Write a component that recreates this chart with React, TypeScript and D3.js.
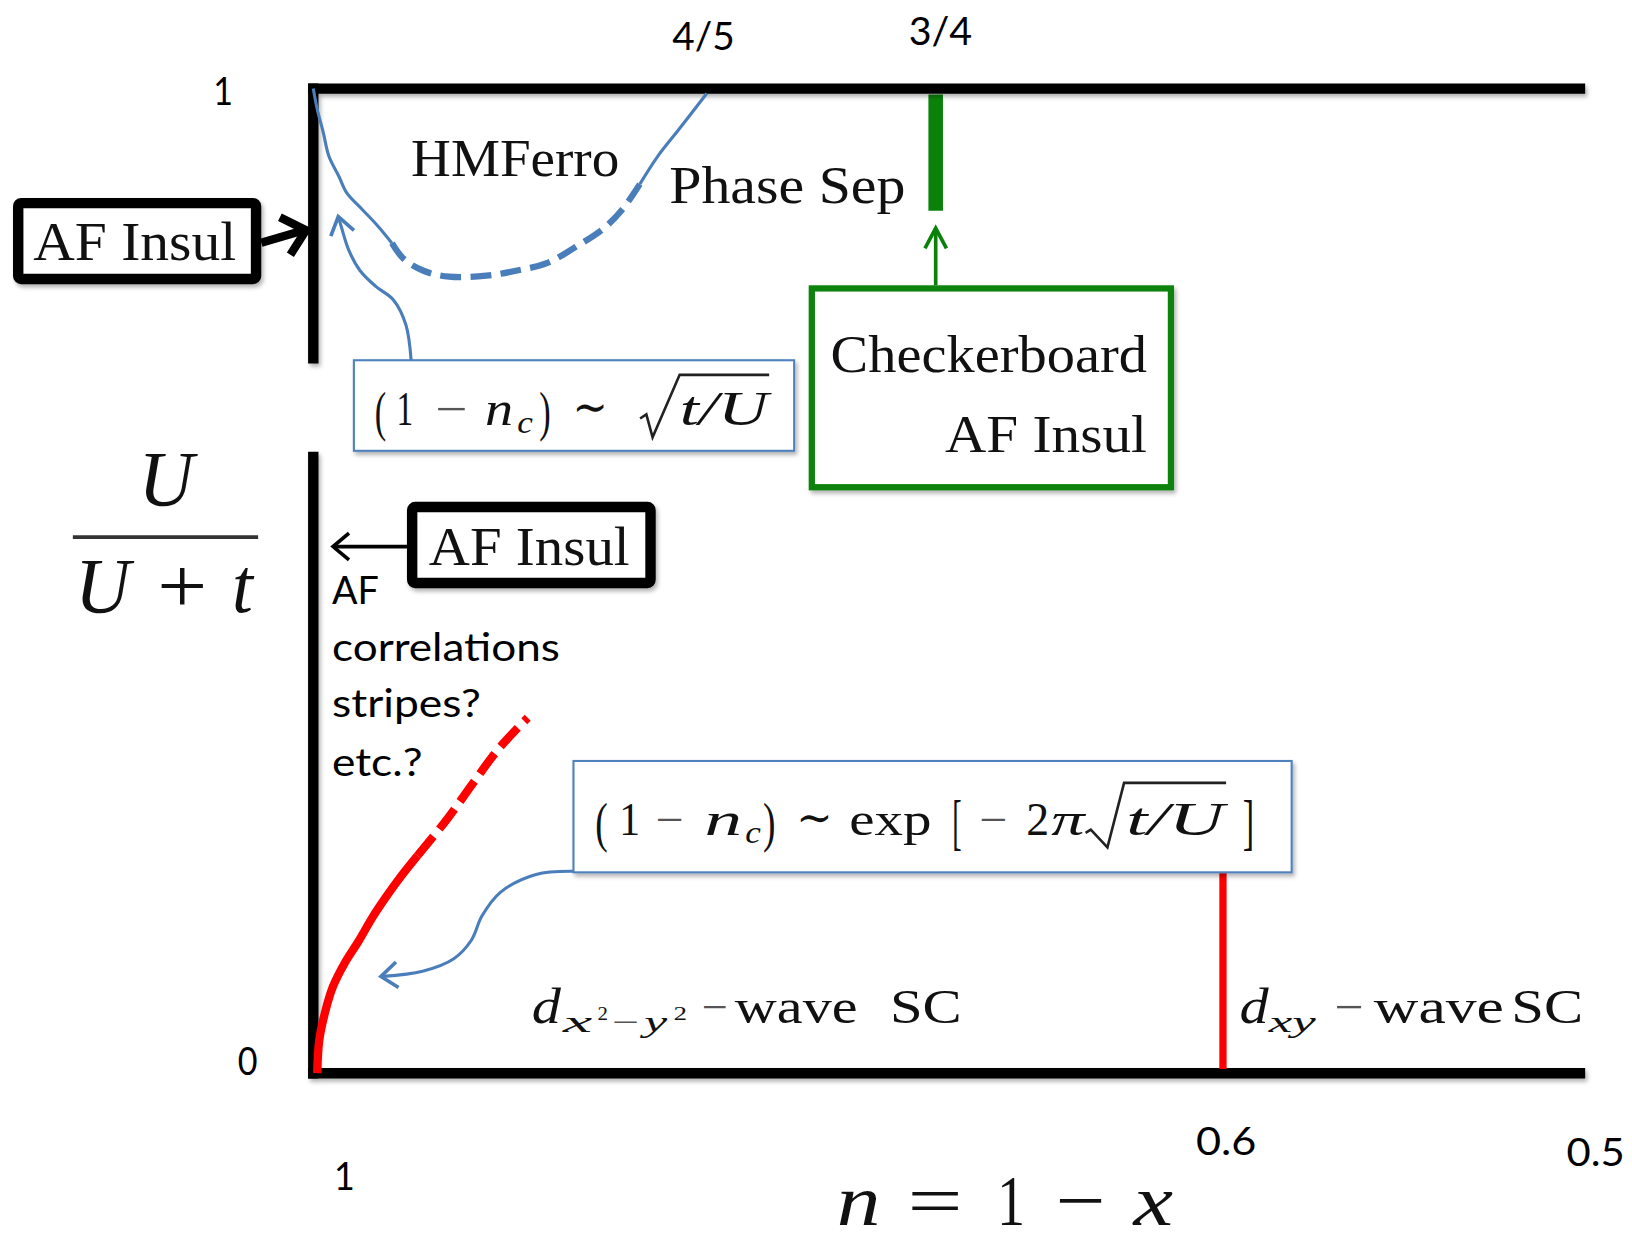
import React from "react";
import * as d3 from "d3";

// ---------- data ----------
// x axis: n = 1 - x (schematic, piecewise), y axis: U/(U+t)
const xTickValues = [1, 0.8, 0.75, 0.6, 0.5];
const xTickLabels = ["1", "4/5", "3/4", "0.6", "0.5"];
const yTickValues = [0, 1];
const yTickLabels = ["0", "1"];

// Half-metallic ferromagnet boundary [n, U/(U+t)]
const ferroSolidLeft: [number, number][] = [
  [1.0, 1.0], [0.998, 0.979], [0.995, 0.956], [0.992, 0.931], [0.987, 0.911],
  [0.983, 0.894], [0.975, 0.877], [0.967, 0.86], [0.96, 0.843],
];
const ferroDashed: [number, number][] = [
  [0.96, 0.843], [0.954, 0.827], [0.944, 0.815], [0.931, 0.809], [0.912, 0.81],
  [0.897, 0.815], [0.881, 0.823], [0.866, 0.84], [0.853, 0.857], [0.843, 0.877], [0.834, 0.903],
];
const ferroSolidRight: [number, number][] = [
  [0.834, 0.903], [0.825, 0.931], [0.814, 0.959], [0.8, 0.995],
];

// d_{x2-y2} SC boundary
const scSolid: [number, number][] = [
  [0.998, 0.0], [0.997, 0.033], [0.994, 0.062], [0.99, 0.088], [0.984, 0.112],
  [0.977, 0.134], [0.97, 0.158], [0.963, 0.179], [0.955, 0.201], [0.947, 0.221],
];
const scDashed: [number, number][] = [
  [0.947, 0.221], [0.932, 0.258], [0.919, 0.294], [0.906, 0.329], [0.891, 0.361],
];

// d_xy boundary at n = 0.6 and checkerboard line at n = 3/4
const dxyBoundary = { n: 0.6, uLow: 0, uHigh: 0.204 };
const checkerLine = { n: 0.75, uLow: 0.876, uHigh: 0.994 };

// ---------- layout ----------
const W = 1568;
const H = 1194;
const SERIF = "'Liberation Serif', 'DejaVu Serif', serif";
const SANS = "Lato, 'Open Sans', sans-serif";
const BLUE = "#4a7ebb";
const BOXBLUE = "#4f81bd";
const GREEN = "#0a820a";
const RED = "#ff0000";

const xScale = d3.scaleLinear().domain(xTickValues).range([301, 679, 899, 1175, 1523]);
const yScale = d3.scaleLinear().domain([0, 1]).range([1031, 85]);

const xTickLayout = [
  { dx: 30, y: 1143, w: 20 },
  { dx: -3, y: 48, w: 60 },
  { dx: 4.5, y: 43, w: 61 },
  { dx: 3, y: 1110, w: 58 },
  { dx: 10, y: 1120, w: 56 },
];
const yTickLayout = [
  { x: 238, dy: 2, w: 19 },
  { x: 214.5, dy: 16, w: 19 },
];

const line = d3
  .line<[number, number]>()
  .x((d) => xScale(d[0]))
  .y((d) => yScale(d[1]))
  .curve(d3.curveCatmullRom.alpha(0.5));

const smooth = d3.line<[number, number]>().curve(d3.curveCatmullRom.alpha(0.5));

function arrowHead(tail: [number, number], tip: [number, number], len: number, spreadDeg: number) {
  const a = Math.atan2(tip[1] - tail[1], tip[0] - tail[0]);
  const s = (spreadDeg * Math.PI) / 180;
  const b1 = [tip[0] - len * Math.cos(a - s), tip[1] - len * Math.sin(a - s)];
  const b2 = [tip[0] - len * Math.cos(a + s), tip[1] - len * Math.sin(a + s)];
  return `M${b1[0]},${b1[1]}L${tip[0]},${tip[1]}L${b2[0]},${b2[1]}`;
}

type TkProps = {
  x: number; y: number; s: number; w?: number; it?: boolean; f?: string;
  anchor?: string; fill?: string; children: React.ReactNode;
};
const Tk = ({ x, y, s, w, it, f, anchor, fill, children }: TkProps) => (
  <text
    x={x}
    y={y}
    fontSize={s}
    fontStyle={it ? "italic" : "normal"}
    fontFamily={f || SERIF}
    textAnchor={anchor || "start"}
    textLength={w}
    lengthAdjust={w ? "spacingAndGlyphs" : undefined}
    fill={fill || "#111"}
  >
    {children}
  </text>
);

export default function App() {
  const upArrowPts: [number, number][] = [
    [395, 346], [390, 312], [378, 288], [361, 275], [346, 260], [335, 240], [328, 218], [325, 208],
  ];
  const scArrowPts: [number, number][] = [
    [551, 837], [515, 840], [481, 857], [463, 880], [453, 903], [436, 921], [406, 933], [368, 938],
  ];

  return (
    <svg
      width={1632}
      height={1243}
      viewBox={`0 0 ${W} ${H}`}
      style={{ position: "absolute", left: 0, top: 0, background: "#fff" }}
    >
      <defs>
        <filter id="sh" x="-10%" y="-10%" width="130%" height="140%">
          <feDropShadow dx="2" dy="3" stdDeviation="2" floodColor="#000" floodOpacity="0.3" />
        </filter>
      </defs>
      <rect x={0} y={0} width={W} height={H} fill="#fff" />

      {/* checkerboard line at 3/4 */}
      <line
        x1={xScale(checkerLine.n)}
        x2={xScale(checkerLine.n)}
        y1={yScale(checkerLine.uHigh)}
        y2={yScale(checkerLine.uLow)}
        stroke={GREEN}
        strokeWidth={14}
      />

      {/* axes frame */}
      <g stroke="#000" strokeWidth={10} filter="url(#sh)">
        <line x1={296} x2={1523} y1={yScale(1)} y2={yScale(1)} />
        <line x1={296} x2={1523} y1={yScale(0)} y2={yScale(0)} />
        <line x1={xScale(1)} x2={xScale(1)} y1={yScale(1) - 5} y2={349} />
        <line x1={xScale(1)} x2={xScale(1)} y1={434} y2={yScale(0) + 5} />
      </g>

      {/* d_xy boundary */}
      <line
        x1={xScale(dxyBoundary.n)}
        x2={xScale(dxyBoundary.n)}
        y1={yScale(dxyBoundary.uHigh)}
        y2={yScale(dxyBoundary.uLow) - 4}
        stroke={RED}
        strokeWidth={7}
      />

      {/* SC boundary */}
      <path d={line(scSolid) || ""} fill="none" stroke={RED} strokeWidth={8} />
      <path d={line(scDashed) || ""} fill="none" stroke={RED} strokeWidth={8} strokeDasharray="24 9" />

      {/* HMFerro boundary */}
      <path d={line(ferroSolidLeft) || ""} fill="none" stroke={BLUE} strokeWidth={3} />
      <path d={line(ferroDashed) || ""} fill="none" stroke={BLUE} strokeWidth={6} strokeDasharray="20 9" />
      <path d={line(ferroSolidRight) || ""} fill="none" stroke={BLUE} strokeWidth={3} />

      {/* tick labels */}
      {xTickValues.map((v, i) => (
        <Tk key={"xt" + i} x={xScale(v) + xTickLayout[i].dx} y={xTickLayout[i].y} s={38} f={SANS}
          anchor="middle" w={xTickLayout[i].w} fill="#000">
          {xTickLabels[i]}
        </Tk>
      ))}
      {yTickValues.map((v, i) => (
        <Tk key={"yt" + i} x={yTickLayout[i].x} y={yScale(v) + yTickLayout[i].dy} s={38} f={SANS}
          anchor="middle" w={yTickLayout[i].w} fill="#000">
          {yTickLabels[i]}
        </Tk>
      ))}

      {/* axis titles */}
      <g>
        <Tk x={804} y={1177} s={70} it w={42}>n</Tk>
        <Tk x={872} y={1177} s={70} w={53}>=</Tk>
        <Tk x={958} y={1177} s={70} w={27}>1</Tk>
        <Tk x={1014} y={1177} s={70} w={48}>−</Tk>
        <Tk x={1089} y={1177} s={70} it w={38}>x</Tk>
      </g>
      <g>
        <Tk x={133} y={485} s={76} it w={53}>U</Tk>
        <line x1={70} x2={248} y1={516} y2={516} stroke="#333" strokeWidth={3.5} />
        <Tk x={72} y={588} s={76} it w={53}>U</Tk>
        <Tk x={151} y={588} s={76} w={48}>+</Tk>
        <Tk x={223} y={588} s={76} it w={20}>t</Tk>
      </g>

      {/* phase labels */}
      <Tk x={395} y={169} s={50} w={200}>HMFerro</Tk>
      <Tk x={643} y={195} s={50} w={227}>Phase Sep</Tk>

      {/* AF insulator box (upper) */}
      <rect x={17.5} y={195} width={228.5} height={73} rx={3} fill="#fff" stroke="#000" strokeWidth={10} filter="url(#sh)" />
      <Tk x={32} y={250} s={52} w={195}>AF Insul</Tk>
      <path d={`M251,233L292,221`} stroke="#000" strokeWidth={8} fill="none" />
      <path d={arrowHead([251, 233], [294, 221], 28, 42)} stroke="#000" strokeWidth={8} fill="none" strokeLinejoin="miter" />

      {/* sqrt box */}
      <path d={smooth(upArrowPts) || ""} stroke={BLUE} strokeWidth={3} fill="none" />
      <path d={arrowHead([327, 216], [325, 208], 20, 35)} stroke={BLUE} strokeWidth={3.5} fill="none" />
      <rect x={340} y={346} width={423} height={87} fill="#fff" stroke={BOXBLUE} strokeWidth={2} filter="url(#sh)" />
      <g>
        <Tk x={360} y={413} s={52} w={11}>(</Tk>
        <Tk x={381} y={408} s={46} w={16}>1</Tk>
        <Tk x={418} y={408} s={46} w={31} fill="#555">−</Tk>
        <Tk x={466} y={408} s={46} it w={27}>n</Tk>
        <Tk x={497} y={416} s={30} it w={15}>c</Tk>
        <Tk x={518} y={413} s={52} w={11}>)</Tk>
        <Tk x={550} y={406} s={46} w={34}>∼</Tk>
        <path d="M615,402L621,398L627,420L653,360L739,360" stroke="#222" strokeWidth={2.5} fill="none" />
        <Tk x={653} y={408} s={46} it w={85}>t/U</Tk>
      </g>

      {/* checkerboard box */}
      <line x1={899} x2={899} y1={274} y2={221} stroke={GREEN} strokeWidth={3.5} />
      <path d={arrowHead([899, 274], [899, 219], 22, 28)} stroke={GREEN} strokeWidth={3.5} fill="none" />
      <rect x={780} y={277} width={345} height={191} fill="#fff" stroke={GREEN} strokeWidth={6} filter="url(#sh)" />
      <Tk x={798} y={357} s={50} w={304}>Checkerboard</Tk>
      <Tk x={908} y={434} s={50} w={194}>AF Insul</Tk>

      {/* AF insulator box (lower) */}
      <line x1={391} x2={322} y1={525} y2={525} stroke="#000" strokeWidth={3.5} />
      <path d={arrowHead([391, 525], [320, 525], 20, 40)} stroke="#000" strokeWidth={3.5} fill="none" />
      <rect x={396} y={487} width={229} height={73} rx={3} fill="#fff" stroke="#000" strokeWidth={10} filter="url(#sh)" />
      <Tk x={412} y={543} s={52} w={193}>AF Insul</Tk>

      {/* AF correlations text */}
      <Tk x={319} y={580} s={38} f={SANS} w={45} fill="#000">AF</Tk>
      <Tk x={319} y={635} s={38} f={SANS} w={219} fill="#000">correlations</Tk>
      <Tk x={319} y={689} s={38} f={SANS} w={143} fill="#000">stripes?</Tk>
      <Tk x={319} y={745} s={38} f={SANS} w={87} fill="#000">etc.?</Tk>

      {/* exp box */}
      <path d={smooth(scArrowPts) || ""} stroke={BLUE} strokeWidth={3} fill="none" />
      <path d={arrowHead([376, 937], [366, 938], 20, 38)} stroke={BLUE} strokeWidth={3.5} fill="none" />
      <rect x={551} y={731} width={690} height={107} fill="#fff" stroke={BOXBLUE} strokeWidth={2} filter="url(#sh)" />
      <g>
        <Tk x={572} y={808} s={52} w={12}>(</Tk>
        <Tk x={595} y={802} s={44} w={20}>1</Tk>
        <Tk x={630} y={802} s={44} w={27} fill="#555">−</Tk>
        <Tk x={677} y={802} s={44} it w={36}>n</Tk>
        <Tk x={716} y={810} s={30} it w={15}>c</Tk>
        <Tk x={733} y={808} s={52} w={12}>)</Tk>
        <Tk x={765} y={800} s={44} w={35}>∼</Tk>
        <Tk x={816} y={802} s={44} w={79}>exp</Tk>
        <Tk x={915} y={810} s={58} w={9}>[</Tk>
        <Tk x={941} y={802} s={44} w={27} fill="#555">−</Tk>
        <Tk x={986} y={802} s={44} w={22}>2</Tk>
        <Tk x={1010} y={802} s={44} it w={32}>π</Tk>
        <path d="M1043,800L1048,797L1064,814L1080,752L1178,752" stroke="#222" strokeWidth={2.5} fill="none" />
        <Tk x={1082} y={802} s={44} it w={94}>t/U</Tk>
        <Tk x={1194} y={810} s={58} w={11}>]</Tk>
      </g>

      {/* SC labels */}
      <g>
        <Tk x={511} y={983} s={48} it w={28}>d</Tk>
        <Tk x={541} y={991} s={28} it w={28}>x</Tk>
        <Tk x={574} y={980} s={18} w={10}>2</Tk>
        <Tk x={588} y={991} s={28} w={26} fill="#555">−</Tk>
        <Tk x={619} y={991} s={28} it w={22}>y</Tk>
        <Tk x={647} y={980} s={18} w={13}>2</Tk>
        <Tk x={674} y={983} s={46} w={25} fill="#555">−</Tk>
        <Tk x={706} y={983} s={46} w={118}>wave</Tk>
        <Tk x={855} y={983} s={46} w={69}>SC</Tk>
      </g>
      <g>
        <Tk x={1191} y={983} s={48} it w={28}>d</Tk>
        <Tk x={1219} y={991} s={28} it w={45}>xy</Tk>
        <Tk x={1282} y={983} s={46} w={28} fill="#555">−</Tk>
        <Tk x={1320} y={983} s={46} w={125}>wave</Tk>
        <Tk x={1452} y={983} s={46} w={69}>SC</Tk>
      </g>
    </svg>
  );
}
